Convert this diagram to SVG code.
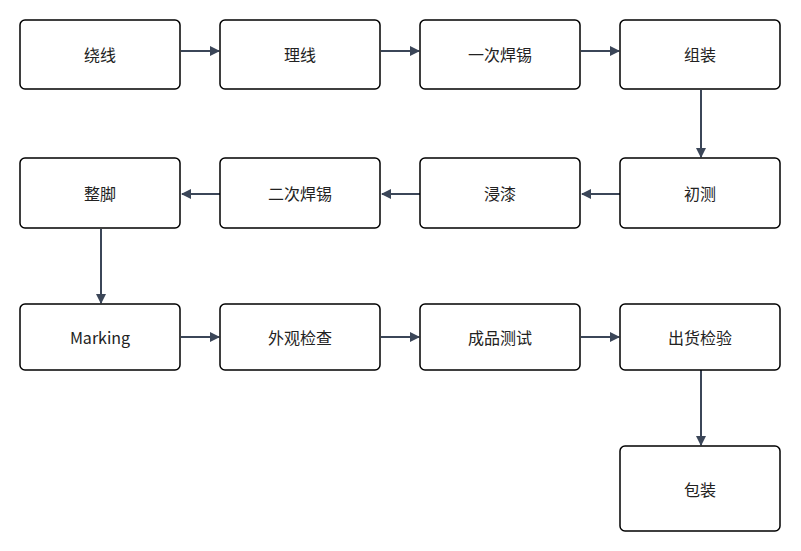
<svg xmlns="http://www.w3.org/2000/svg" width="801" height="551" viewBox="0 0 801 551">
<defs>
<marker id="a" viewBox="0 0 10 10" refX="9" refY="5" markerWidth="10" markerHeight="10" markerUnits="userSpaceOnUse" orient="auto"><path d="M0,0L10,5L0,10z" fill="#3b4658"/></marker>
<style>
.n rect{fill:#fff;stroke:#000;stroke-width:1.5}
.n text{font-family:"Noto Sans CJK SC","Noto Sans",sans-serif;font-size:16px;fill:#222;text-anchor:middle;dominant-baseline:central}
#c path{stroke:#3b4658;stroke-width:2;fill:none;marker-end:url(#a)}
</style>
</defs>
<rect width="801" height="551" fill="#fff"/>
<g id="c">
<path d="M181,51H219"/><path d="M381,51H419"/><path d="M581,51H619"/>
<path d="M701,90V157"/>
<path d="M620,194H582"/><path d="M420,194H382"/><path d="M220,194H182"/>
<path d="M101,229V303"/>
<path d="M181,337H219"/><path d="M381,337H419"/><path d="M581,337H619"/>
<path d="M701,370V445"/>
</g>
<g id="n1" class="n"><rect x="20" y="20" width="160" height="69" rx="5"/><text x="100" y="54">绕线</text></g>
<g id="n2" class="n"><rect x="220" y="20" width="160" height="69" rx="5"/><text x="300" y="54">理线</text></g>
<g id="n3" class="n"><rect x="420" y="20" width="160" height="69" rx="5"/><text x="500" y="54">一次焊锡</text></g>
<g id="n4" class="n"><rect x="620" y="20" width="160" height="69" rx="5"/><text x="700" y="54">组装</text></g>
<g id="n5" class="n"><rect x="620" y="158" width="160" height="70" rx="5"/><text x="700" y="193">初测</text></g>
<g id="n6" class="n"><rect x="420" y="158" width="160" height="70" rx="5"/><text x="500" y="193">浸漆</text></g>
<g id="n7" class="n"><rect x="220" y="158" width="160" height="70" rx="5"/><text x="300" y="193">二次焊锡</text></g>
<g id="n8" class="n"><rect x="20" y="158" width="160" height="70" rx="5"/><text x="100" y="193">整脚</text></g>
<g id="n9" class="n"><rect x="20" y="304" width="160" height="66" rx="5"/><text x="100" y="337">Marking</text></g>
<g id="n10" class="n"><rect x="220" y="304" width="160" height="66" rx="5"/><text x="300" y="337">外观检查</text></g>
<g id="n11" class="n"><rect x="420" y="304" width="160" height="66" rx="5"/><text x="500" y="337">成品测试</text></g>
<g id="n12" class="n"><rect x="620" y="304" width="160" height="66" rx="5"/><text x="700" y="337">出货检验</text></g>
<g id="n13" class="n"><rect x="620" y="446" width="160" height="85" rx="5"/><text x="700" y="489">包装</text></g>
</svg>
